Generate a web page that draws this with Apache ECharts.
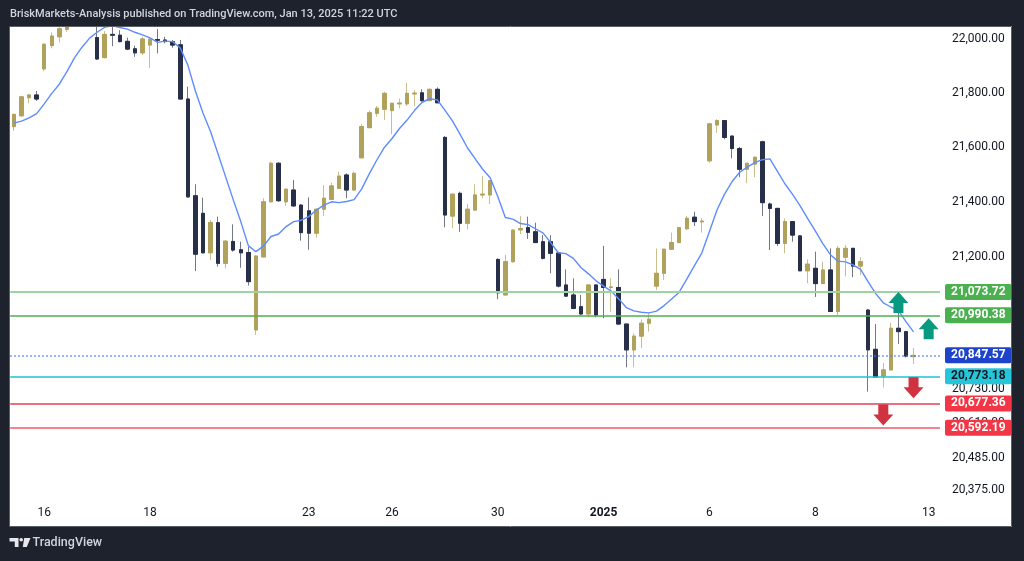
<!DOCTYPE html>
<html><head><meta charset="utf-8">
<style>html,body{margin:0;padding:0;background:#1e222d;}#c{width:1024px;height:561px;}</style>
<script src="https://cdn.jsdelivr.net/npm/echarts@6/dist/echarts.min.js"></script>
</head><body><div id="c"></div>
<script>
// ---- data (NAS100-like candles) ----
const opens = [21676,21716,21783,21793,21890,21977,22010,22038,22085,22115,
22125,22007,21932,22019,22016,21993,21965,21950,21979,22000,
21998,21992,21980,21778,21422,21358,21215,21324,21177,21256,
21226,21216,20938,21200,21400,21541,21400,21443,21388,21367,
21286,21373,21409,21449,21498,21443,21561,21672,21725,21740,
21735,21760,21760,21797,21801,21772,21814,21636,21348,21431,
21322,21370,21425,21425,21191,21063,21183,21298,21306,21291,
21255,21255,21214,21099,21063,21021,20995,21099,21119,21090,
21090,20959,20867,20916,20962,21095,21141,21228,21252,21302,
21344,21327,21550,21682,21698,21641,21595,21519,21538,21620,
21392,21376,21249,21328,21276,21150,21159,21104,21153,21004,
21199,21231,21167,21009,20869,20774,20796,20944,20932,20843];
const highs = [21724,21790,21797,21808,21986,22027,22065,22095,22125,22140,
22130,22050,22032,22048,22035,22007,21977,22010,22005,22039,
22010,21998,21998,21824,21464,21415,21334,21346,21261,21318,
21255,21237,21207,21413,21547,21545,21449,21480,21392,21416,
21376,21461,21470,21510,21504,21510,21686,21735,21752,21805,
21764,21780,21839,21811,21814,21817,21821,21641,21430,21437,
21392,21464,21494,21478,21195,21207,21300,21348,21346,21324,
21279,21279,21218,21155,21123,21063,21100,21100,21240,21123,
21155,20960,20926,20976,20998,21231,21229,21288,21307,21348,
21364,21340,21690,21703,21699,21641,21601,21542,21565,21624,
21397,21378,21340,21329,21279,21191,21219,21183,21231,21240,
21243,21233,21199,21013,20959,20820,20964,21015,20933,20874];
const lows = [21660,21712,21762,21771,21882,21967,21989,22028,22062,22088,
22070,21923,21929,21975,21989,21960,21935,21942,21894,21948,
21986,21969,21776,21415,21149,21213,21189,21165,21159,21219,
21161,21097,20920,21199,21399,21400,21385,21383,21259,21226,
21270,21348,21406,21446,21413,21441,21560,21670,21712,21700,
21648,21743,21752,21752,21768,21770,21763,21307,21304,21291,
21300,21369,21413,21392,21048,21062,21179,21283,21265,21250,
21191,21141,21090,21057,21012,20991,20983,20983,20980,21003,
20957,20805,20805,20873,20932,21081,21117,21226,21250,21297,
21312,21288,21543,21653,21629,21559,21490,21468,21490,21348,
21225,21240,21213,21255,21150,21105,21056,21102,21003,20991,
21130,21127,21134,20719,20769,20734,20795,20888,20840,20817];
const closes = [21721,21786,21793,21778,21982,22013,22040,22085,22115,22125,
22100,21927,22019,22016,21992,21964,21950,22002,22001,21997,
21992,21979,21778,21418,21210,21215,21325,21177,21257,21225,
21215,21111,21203,21400,21541,21404,21446,21385,21288,21286,
21373,21413,21458,21494,21443,21504,21676,21727,21744,21799,
21762,21763,21799,21800,21772,21814,21764,21352,21428,21322,
21373,21425,21428,21477,21071,21183,21297,21303,21289,21252,
21195,21213,21095,21059,21015,20995,21099,20991,21090,21092,
20959,20867,20916,20962,20976,21141,21228,21252,21306,21340,
21328,21330,21686,21698,21636,21595,21519,21541,21563,21397,
21376,21249,21328,21279,21150,21174,21104,21153,21004,21231,
21231,21167,21183,20867,20771,20796,20944,20932,20845,20847.57];
const maValues = [21689,21696,21708,21724,21760,21799,21833,21880,21931,21971,
22005,22027,22046,22052,22045,22039,22027,22017,22006,21989,
21994,21992,21968,21904,21808,21726,21658,21575,21491,21408,
21328,21241,21219,21239,21274,21283,21310,21328,21333,21346,
21370,21388,21400,21397,21401,21408,21447,21502,21553,21599,
21632,21669,21700,21736,21766,21779,21775,21737,21697,21648,
21597,21558,21519,21488,21419,21343,21337,21321,21317,21302,
21286,21252,21215,21212,21195,21162,21139,21114,21095,21077,
21049,21018,21006,21001,20999,21005,21025,21049,21073,21120,
21168,21215,21292,21370,21428,21474,21508,21527,21543,21554,
21557,21511,21465,21427,21385,21339,21294,21248,21208,21185,
21182,21171,21155,21110,21068,21035,21020,21007,20968,20931];

const slotCount = 123;                       // bars + empty right margin
const dayLabelIndex = [4, 18, 39, 50, 64, 78, 92, 106, 121];
const dayLabelText  = ['16','18','23','26','30','2025','6','8','13'];
const priceTicks = [22000, 21800, 21600, 21400, 21200, 20730, 20610, 20485, 20375];
const priceMin = 20340.2, priceMax = 22046.8;

const levelPrices = [21073.72, 20990.38, 20847.57, 20773.18, 20677.36, 20592.19];
const levelLine   = ['#9fd3a2', '#4caf50', '#4f79f0', '#22c1d6', '#e0434f', '#ef5a67'];
const levelWidth  = [2, 1.5, 1.5, 1.5, 1.5, 1.5];
const levelType   = ['solid','solid',[1.5,2.5],'solid','solid','solid'];
const levelTagBg  = ['#4caf50', '#4caf50', '#1c43c9', '#26c6da', '#f23645', '#f23645'];
const levelTagFg  = ['#ffffff', '#ffffff', '#ffffff', '#131722', '#ffffff', '#ffffff'];

const arrowIndex = [117, 121, 119, 115];
const arrowPrice = [21036, 20942, 20733, 20637];
const arrowDir   = ['up', 'up', 'down', 'down'];

// ---- build ----
const L = Math.log;
const fmt = v => v.toLocaleString('en-US', {minimumFractionDigits: 2, maximumFractionDigits: 2});
const categories = Array.from({length: slotCount}, (_, i) => 'b' + i);
const labelMap = {};
dayLabelIndex.forEach((k, j) => { labelMap[k] = dayLabelText[j]; });

const wickData = opens.map((o, i) => [L(o), L(closes[i]), L(lows[i]), L(highs[i])]);
const bodyData = opens.map((o, i) => [L(o), L(closes[i]), L(Math.min(o, closes[i])), L(Math.max(o, closes[i]))]);
const maData = maValues.map(v => L(v));

const GOLD = '#b0a25a', NAVY = '#283049';
const UP_PATH = 'path://M10,0 L20,11 L15,11 L15,21 L5,21 L5,11 L0,11 Z';
const DOWN_PATH = 'path://M5,0 L15,0 L15,10 L20,10 L10,21 L0,10 L5,10 Z';

const markLineData = levelPrices.map((p, i) => ({
  yAxis: L(p),
  lineStyle: {color: levelLine[i], width: levelWidth[i], type: levelType[i], opacity: 1},
  label: {
    show: true, position: 'end', distance: 5, formatter: fmt(p),
    color: levelTagFg[i], backgroundColor: levelTagBg[i], padding: [2, 6, 1, 6],
    fontFamily: 'Roboto', fontSize: 12, fontWeight: 'bold', lineHeight: 13, borderRadius: 2
  }
}));

const markPointData = arrowIndex.map((x, i) => ({
  coord: [x, L(arrowPrice[i])],
  symbol: arrowDir[i] === 'up' ? UP_PATH : DOWN_PATH,
  symbolSize: [20, 21],
  itemStyle: {color: arrowDir[i] === 'up' ? '#089981' : '#d1323f'},
  label: {show: false}
}));

const FRAME = '#1e222d';
const chart = echarts.init(document.getElementById('c'));
chart.setOption({
  animation: false,
  backgroundColor: '#ffffff',
  grid: {left: 10.2, right: 84, top: 27, bottom: 61},
  xAxis: {
    type: 'category', data: categories, boundaryGap: true,
    axisLine: {show: false}, axisTick: {show: false}, splitLine: {show: false},
    axisLabel: {
      interval: 0, margin: 7, color: '#131722', fontFamily: 'Roboto', fontSize: 12,
      formatter: (v, idx) => {
        const t = labelMap[idx];
        if (!t) return '';
        return t === '2025' ? '{b|2025}' : t;
      },
      rich: {b: {fontWeight: 'bold', color: '#131722', fontFamily: 'Roboto', fontSize: 12}}
    }
  },
  yAxis: {
    type: 'value', position: 'right', min: L(priceMin), max: L(priceMax),
    axisLine: {show: false}, axisTick: {show: false}, splitLine: {show: false},
    axisLabel: {
      customValues: priceTicks.map(v => L(v)),
      formatter: v => fmt(Math.exp(v)),
      color: '#131722', fontFamily: 'Roboto', fontSize: 12, margin: 12
    }
  },
  series: [
    {
      type: 'line', name: 'levels', data: [], silent: true, z: 1,
      markLine: {symbol: 'none', silent: true, animation: false, precision: 12, data: markLineData}
    },
    {
      type: 'candlestick', name: 'wicks', data: wickData, barWidth: 4, clip: true, silent: true, z: 2,
      itemStyle: {color: '#c9bf8e', color0: '#737888', borderColor: '#c9bf8e', borderColor0: '#737888', borderWidth: 1}
    },
    {
      type: 'candlestick', name: 'bodies', data: bodyData, barWidth: 4, clip: true, silent: true, z: 2,
      itemStyle: {color: GOLD, color0: NAVY, borderColor: GOLD, borderColor0: NAVY, borderWidth: 1}
    },
    {
      type: 'line', name: 'MA', data: maData, symbol: 'none', smooth: false, clip: true, silent: true, z: 3,
      lineStyle: {color: '#5e8cff', width: 1.4},
      markPoint: {silent: true, animation: false, data: markPointData}
    }
  ],
  graphic: {elements: [
    {type: 'rect', z: 100, shape: {x: 0, y: 0, width: 1024, height: 26}, style: {fill: FRAME}},
    {type: 'rect', z: 100, shape: {x: 0, y: 527, width: 1024, height: 34}, style: {fill: FRAME}},
    {type: 'rect', z: 100, shape: {x: 0, y: 0, width: 10, height: 561}, style: {fill: FRAME}},
    {type: 'rect', z: 100, shape: {x: 1012, y: 0, width: 12, height: 561}, style: {fill: FRAME}},
    {type: 'rect', z: 101, shape: {x: 9.5, y: 26.5, width: 1002, height: 500}, style: {fill: null, stroke: '#5a5e69', lineWidth: 1}},
    {type: 'text', z: 102, style: {text: 'BriskMarkets-Analysis published on TradingView.com, Jan 13, 2025 11:22 UTC',
      x: 10, y: 14.5, fill: '#d1d4dc', font: '500 11px Roboto', verticalAlign: 'middle'}},
    {type: 'polygon', z: 102, shape: {points: [[9.5,538],[18.5,538],[18.5,547],[14.8,547],[14.8,541.5],[9.5,541.5]]}, style: {fill: '#e6e8ee'}},
    {type: 'circle', z: 102, shape: {cx: 21.2, cy: 539.8, r: 1.8}, style: {fill: '#e6e8ee'}},
    {type: 'polygon', z: 102, shape: {points: [[24.2,538],[30.5,538],[26.8,547],[22.8,547]]}, style: {fill: '#e6e8ee'}},
    {type: 'text', z: 102, style: {text: 'TradingView', x: 32.5, y: 543, fill: '#d1d4dc', font: '500 12.5px Roboto', verticalAlign: 'middle'}}
  ]}
});
</script>
</body></html>
